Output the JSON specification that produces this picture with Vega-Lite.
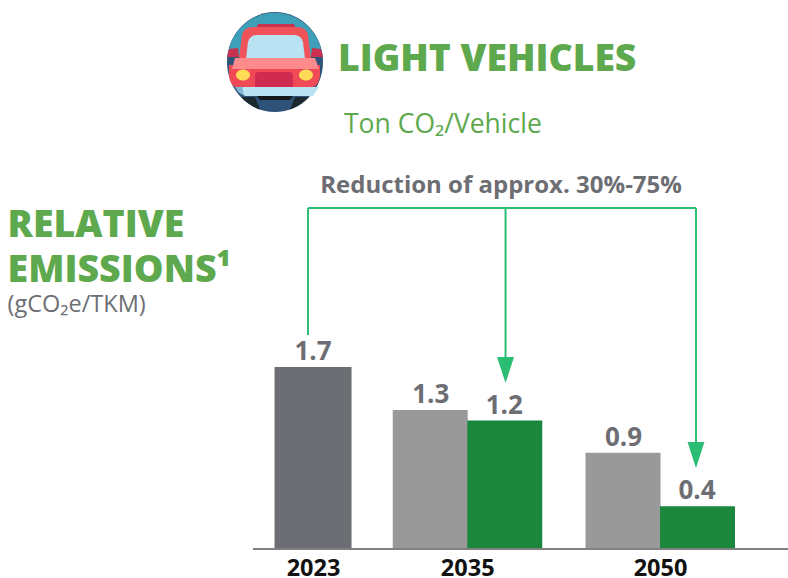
{
"$schema":"https://vega.github.io/schema/vega-lite/v6.json",
"width":788,"height":549,
"autosize":"none",
"padding":{"left":0,"top":0,"right":0,"bottom":29},
"background":"white",
"config":{"view":{"stroke":null},"text":{"font":"Open Sans"}},
"datasets":{"bars":[
{"year":2023,"scenario":"Actual","value":1.7},
{"year":2035,"scenario":"Base","value":1.3},
{"year":2035,"scenario":"Target","value":1.2},
{"year":2050,"scenario":"Base","value":0.9},
{"year":2050,"scenario":"Target","value":0.4}]},
"layer":[
{"data":{"name":"bars"},
"encoding":{
"x":{"field":"year","type":"quantitative","scale":{"domain":[1998.64,2059.96],"nice":false,"zero":false,"padding":0},
"axis":{"values":[2023,2035,2050],"format":"d","title":null,"domain":false,"ticks":false,"grid":false,"labelFont":"Open Sans","labelFontSize":23.5,"labelFontWeight":"bold","labelColor":"#111111","labelPadding":7,"labelOverlap":false}},
"y":{"field":"value","type":"quantitative","stack":null,"scale":{"domain":[0,5.131],"nice":false,"zero":true,"padding":0},"axis":null},
"text":{"field":"value","type":"quantitative","format":".1f"}},
"layer":[
{"transform":[{"filter":"datum.scenario==='Actual'"}],"layer":[
{"mark":{"type":"bar","width":77,"color":"#6d6e73"}},
{"mark":{"type":"text","font":"Open Sans","fontWeight":"bold","fontSize":26,"color":"#6d6e73","baseline":"alphabetic","dy":-7}}]},
{"transform":[{"filter":"datum.scenario==='Base'"}],"layer":[
{"mark":{"type":"bar","width":75,"xOffset":-37,"color":"#999999"}},
{"mark":{"type":"text","font":"Open Sans","fontWeight":"bold","fontSize":26,"color":"#6d6e73","baseline":"alphabetic","dy":-7,"dx":-36.5}}]},
{"transform":[{"filter":"datum.scenario==='Target'"}],"layer":[
{"mark":{"type":"bar","width":75,"xOffset":37.5,"color":"#1a873c"}},
{"mark":{"type":"text","font":"Open Sans","fontWeight":"bold","fontSize":26,"color":"#6d6e73","baseline":"alphabetic","dy":-7,"dx":37}}]}
]},
{"data":{"values":[{"role":"baseline"}]},"mark":{"type":"rule","color":"#808080","strokeWidth":2},
"encoding":{"x":{"datum":2018.33,"type":"quantitative"},"x2":{"datum":2059.96},"y":{"datum":0,"type":"quantitative"}}},
{"data":{"values":[{"role":"bracket"}]},"mark":{"type":"rule","color":"#2bbd73","strokeWidth":2},
"encoding":{"x":{"datum":2022.61,"type":"quantitative"},"x2":{"datum":2052.8},"y":{"datum":3.187,"type":"quantitative"}}},
{"data":{"values":[{"role":"bracket"}]},"mark":{"type":"rule","color":"#2bbd73","strokeWidth":2},
"encoding":{"x":{"datum":2022.61,"type":"quantitative"},"y":{"datum":3.187,"type":"quantitative"},"y2":{"datum":2.0}}},
{"data":{"values":[{"role":"arrow"}]},"mark":{"type":"rule","color":"#2bbd73","strokeWidth":2},
"encoding":{"x":{"datum":2037.98,"type":"quantitative"},"y":{"datum":3.187,"type":"quantitative"},"y2":{"datum":1.7}}},
{"data":{"values":[{"role":"arrow"}]},"mark":{"type":"rule","color":"#2bbd73","strokeWidth":2},
"encoding":{"x":{"datum":2052.8,"type":"quantitative"},"y":{"datum":3.187,"type":"quantitative"},"y2":{"datum":0.9}}},
{"data":{"values":[{"role":"arrowhead"}]},"mark":{"type":"point","filled":true,"opacity":1,"size":4,"color":"#2bbd73","shape":"M-8.5,-13L8.5,-13L0,13Z"},
"encoding":{"x":{"datum":2037.98,"type":"quantitative"},"y":{"datum":1.673,"type":"quantitative"}}},
{"data":{"values":[{"role":"arrowhead"}]},"mark":{"type":"point","filled":true,"opacity":1,"size":4,"color":"#2bbd73","shape":"M-8.5,-13L8.5,-13L0,13Z"},
"encoding":{"x":{"datum":2052.8,"type":"quantitative"},"y":{"datum":0.879,"type":"quantitative"}}},
{"data":{"values":[{"label":"Reduction of approx. 30%-75%"}]},"mark":{"type":"text","font":"Open Sans","fontWeight":"bold","fontSize":24,"color":"#6d6e73","align":"center","baseline":"alphabetic"},
"encoding":{"x":{"datum":2037.63,"type":"quantitative"},"y":{"datum":3.327,"type":"quantitative"},"text":{"field":"label"}}},
{"data":{"values":[{"label":"LIGHT VEHICLES"}]},"mark":{"type":"text","font":"Open Sans","fontWeight":800,"fontSize":37.3,"color":"#5ea84e","align":"left","baseline":"alphabetic"},
"encoding":{"x":{"datum":2024.94,"type":"quantitative"},"y":{"datum":4.467,"type":"quantitative"},"text":{"field":"label"}}},
{"data":{"values":[{"label":"Ton CO₂/Vehicle"}]},"mark":{"type":"text","font":"Open Sans","fontSize":26.5,"color":"#5ea84e","align":"left","baseline":"alphabetic"},
"encoding":{"x":{"datum":2025.41,"type":"quantitative"},"y":{"datum":3.888,"type":"quantitative"},"text":{"field":"label"}}},
{"data":{"values":[{"label":"RELATIVE"}]},"mark":{"type":"text","font":"Open Sans","fontWeight":800,"fontSize":37.5,"color":"#5ea84e","align":"left","baseline":"alphabetic"},
"encoding":{"x":{"datum":1999.23,"type":"quantitative"},"y":{"datum":2.916,"type":"quantitative"},"text":{"field":"label"}}},
{"data":{"values":[{"label":"EMISSIONS¹"}]},"mark":{"type":"text","font":"Open Sans","fontWeight":800,"fontSize":37.5,"color":"#5ea84e","align":"left","baseline":"alphabetic"},
"encoding":{"x":{"datum":1999.23,"type":"quantitative"},"y":{"datum":2.495,"type":"quantitative"},"text":{"field":"label"}}},
{"data":{"values":[{"label":"(gCO₂e/TKM)"}]},"mark":{"type":"text","font":"Open Sans","fontSize":23.5,"color":"#6d6e73","align":"left","baseline":"alphabetic"},
"encoding":{"x":{"datum":1999.23,"type":"quantitative"},"y":{"datum":2.215,"type":"quantitative"},"text":{"field":"label"}}},
{"data":{"values":[{"part":"car icon"}]},
"encoding":{"x":{"datum":2020.04,"type":"quantitative"},"y":{"datum":4.551,"type":"quantitative"}},
"layer":[
{"mark":{"type":"point","filled":true,"opacity":1,"size":4,"color":"#2f5279","shape":"M-48,0A48,50,0,1,1,48,0A48,50,0,1,1,-48,0Z"}},
{"mark":{"type":"point","filled":true,"opacity":1,"size":4,"color":"#3d9fb8","shape":"M-47.7,-5A48,50,0,0,1,47.7,-5Z"}},
{"mark":{"type":"point","filled":true,"opacity":1,"size":4,"color":"#1c2a30","shape":"M-33.9,35L-20,35L-15,47.5A48,50,0,0,1,-33.9,35Z"}},
{"mark":{"type":"point","filled":true,"opacity":1,"size":4,"color":"#1c2a30","shape":"M33.9,35L20,35L15,47.5A48,50,0,0,0,33.9,35Z"}},
{"mark":{"type":"point","filled":true,"opacity":1,"size":4,"color":"#c9314f","shape":"M-18,-35L-17,-38L19,-38L20,-35Z"}},
{"mark":{"type":"point","filled":true,"opacity":1,"size":4,"color":"#c9314f","shape":"M-48,-5L-46,-13L-37,-14L-36,-5Z"}},
{"mark":{"type":"point","filled":true,"opacity":1,"size":4,"color":"#c9314f","shape":"M48,-5L46,-13L37,-14L36,-5Z"}},
{"mark":{"type":"point","filled":true,"opacity":1,"size":4,"color":"#f0525a","shape":"M-36,-3L-33,-27Q-31,-35,-22,-35L22,-35Q31,-35,33,-27L36,-3Z"}},
{"mark":{"type":"point","filled":true,"opacity":1,"size":4,"color":"#b9e3f3","shape":"M-29,-3L-27,-20Q-25,-27,-18,-27L19,-27Q26,-27,28,-20L30,-3Z"}},
{"mark":{"type":"point","filled":true,"opacity":1,"size":4,"color":"#7fb8d0","shape":"M-40,25L-30,25L-30,34L-36,31Z"}},
{"mark":{"type":"point","filled":true,"opacity":1,"size":4,"color":"#b9e3f3","shape":"M-32,25L44,25L38,34L-30,34Q-33,30,-32,25Z"}},
{"mark":{"type":"point","filled":true,"opacity":1,"size":4,"color":"#ef4a55","shape":"M-46,3L45,3L45,14Q44,23,38,25L-40,25Q-45,22,-46,14Z"}},
{"mark":{"type":"point","filled":true,"opacity":1,"size":4,"color":"#ff8a8c","shape":"M-43,7L-40,-4L40,-4L44,7Z"}},
{"mark":{"type":"point","filled":true,"opacity":1,"size":4,"color":"#ffdb58","shape":"M-39,13A7,5.5,0,1,1,-25,13A7,5.5,0,1,1,-39,13Z"}},
{"mark":{"type":"point","filled":true,"opacity":1,"size":4,"color":"#ffdb58","shape":"M24,13A7,5.5,0,1,1,38,13A7,5.5,0,1,1,24,13Z"}},
{"mark":{"type":"point","filled":true,"opacity":1,"size":4,"color":"#d02c52","shape":"M-20,14Q-20,10,-16,10L14,10Q18,10,18,14L18,25L-20,25Z"}},
{"mark":{"type":"point","filled":true,"opacity":1,"size":4,"color":"#16191c","shape":"M-18,34L18,34L15,38L-15,38Z"}}
]}
]
}
